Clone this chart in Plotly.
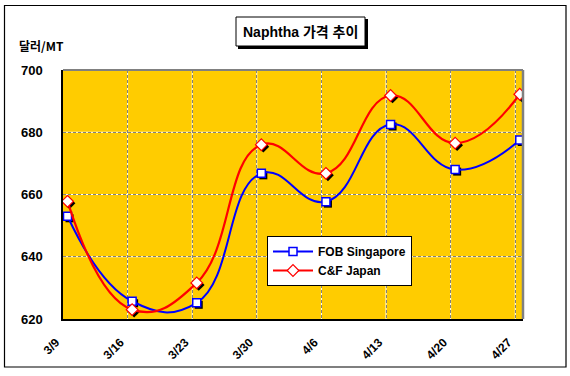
import numpy as np
import plotly.graph_objects as go

# ---- data ----
dates = ["3/9", "3/16", "3/23", "3/30", "4/6", "4/13", "4/20", "4/27"]
fob_singapore = [653.0, 625.7, 625.2, 666.8, 657.7, 682.5, 668.0, 677.5]
cf_japan = [657.8, 623.0, 631.6, 676.0, 666.8, 691.8, 676.5, 692.2]
y_ticks = [620, 640, 660, 680, 700]

# ---- layout constants (pixels) ----
W, H = 570, 376
L, R, T, B = 63, 523, 70, 319
POINT_OFFSET = 0.07
X_MAX = 7.12
GOLD = "#FFCC00"
FONT = "Liberation Sans, Arial, Noto Sans CJK KR, sans-serif"


def xp(px):
    return (px - L) / (R - L)


def yp(py):
    return (B - py) / (B - T)


xi = np.arange(len(dates))
xpts = xi + POINT_OFFSET

# shadow offsets in data units
dx = 2.0 * X_MAX / (R - L)
dy = 2.0 * (y_ticks[-1] - y_ticks[0]) / (B - T)

fig = go.Figure()

fig.add_trace(go.Scatter(x=xpts + dx, y=np.array(fob_singapore) - dy, mode="markers",
                         marker=dict(symbol="square", size=8, color="black"),
                         showlegend=False, hoverinfo="skip"))
fig.add_trace(go.Scatter(x=xpts + dx, y=np.array(cf_japan) - dy, mode="markers",
                         marker=dict(symbol="diamond", size=9, color="black"),
                         showlegend=False, hoverinfo="skip"))

fig.add_trace(go.Scatter(
    x=xpts, y=fob_singapore, name="FOB Singapore", mode="lines+markers",
    line=dict(color="#0000FF", width=2, shape="spline", smoothing=1.3),
    marker=dict(symbol="square", size=8, color="white",
                line=dict(color="#0000FF", width=1.5)),
))
fig.add_trace(go.Scatter(
    x=xpts, y=cf_japan, name="C&F Japan", mode="lines+markers",
    line=dict(color="#FF0000", width=2.2, shape="spline", smoothing=1.3),
    marker=dict(symbol="diamond", size=9, color="white",
                line=dict(color="#FF0000", width=1.2)),
))

shapes = []
# white under-gridlines (two-tone dashed look)
for i in xi[1:]:
    shapes.append(dict(type="line", layer="below", xref="x", yref="paper",
                       x0=i, x1=i, y0=0, y1=1, line=dict(color="white", width=1)))
for v in y_ticks[1:-1]:
    shapes.append(dict(type="line", layer="below", xref="paper", yref="y",
                       x0=0, x1=1, y0=v, y1=v, line=dict(color="white", width=1)))
# plot area grey top/right border
shapes.append(dict(type="line", xref="paper", yref="paper", x0=0, x1=1, y0=1, y1=1,
                   line=dict(color="#808080", width=2)))
shapes.append(dict(type="line", xref="paper", yref="paper", x0=1, x1=1, y0=0, y1=1,
                   line=dict(color="#808080", width=2.5)))
# outer chart border
shapes.append(dict(type="rect", xref="paper", yref="paper",
                   x0=xp(4.5), x1=xp(566), y0=yp(5.5), y1=yp(367),
                   line=dict(color="black", width=1.2)))
# title box shadow and box
shapes.append(dict(type="rect", xref="paper", yref="paper",
                   x0=xp(238), x1=xp(368), y0=yp(19), y1=yp(49),
                   fillcolor="black", line=dict(width=0)))
shapes.append(dict(type="rect", xref="paper", yref="paper",
                   x0=xp(236), x1=xp(365), y0=yp(17), y1=yp(46),
                   fillcolor="white", line=dict(color="black", width=1)))

annotations = [
    dict(text="Naphtha 가격 추이", xref="paper", yref="paper",
         x=xp(300.5), y=yp(31.5), showarrow=False, xanchor="center", yanchor="middle",
         font=dict(family=FONT, size=14, color="black", weight="bold")),
    dict(text="달러/MT", xref="paper", yref="paper",
         x=xp(17), y=yp(46), showarrow=False, xanchor="left", yanchor="middle",
         font=dict(family="Noto Sans CJK KR, Liberation Sans, sans-serif", size=12,
                   color="black", weight="bold")),
]

fig.update_layout(
    width=W, height=H,
    margin=dict(l=L, r=W - R, t=T, b=H - B),
    paper_bgcolor="white", plot_bgcolor=GOLD,
    shapes=shapes, annotations=annotations,
    font=dict(family=FONT, color="black"),
    legend=dict(x=xp(267), y=yp(236), xanchor="left", yanchor="top",
                bgcolor="white", bordercolor="black", borderwidth=1,
                font=dict(family=FONT, size=12, color="black", weight="bold"),
                tracegroupgap=0, itemwidth=40),
    showlegend=True,
)

fig.update_xaxes(
    range=[0, X_MAX], tickvals=list(xi), ticktext=dates, tickangle=-45,
    showgrid=True, gridcolor="#808080", griddash="3px,2px", gridwidth=1,
    showline=True, linecolor="black", linewidth=1.5, ticks="", zeroline=False,
    tickfont=dict(family=FONT, size=12, color="black", weight="bold"),
    ticklabelstandoff=10, ticklabelshift=-7, fixedrange=True,
)
fig.update_yaxes(
    range=[y_ticks[0], y_ticks[-1]], tickvals=y_ticks,
    showgrid=True, gridcolor="#808080", griddash="3px,2px", gridwidth=1,
    showline=True, linecolor="black", linewidth=1.5, ticks="", zeroline=False,
    tickfont=dict(family=FONT, size=13, color="black", weight="bold"),
    ticklabelstandoff=16, fixedrange=True,
)

fig.write_html("out.html")
